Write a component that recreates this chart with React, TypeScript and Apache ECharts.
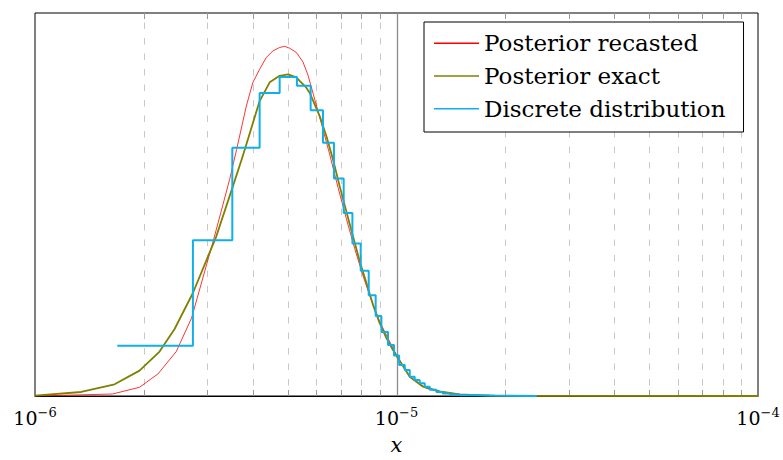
import React, { useEffect, useRef } from "react";
import * as echarts from "echarts";

// x values are in units of 1e-6
const recastX = [1.0, 1.639, 1.946, 2.188, 2.459, 2.712, 3.119, 3.454, 3.612, 3.842, 4.007, 4.182, 4.364, 4.552, 4.751, 4.905, 5.064, 5.284, 5.511, 5.69, 5.874, 6.197, 6.533, 6.888, 7.266, 7.662, 8.079, 8.521, 8.986, 9.473, 9.994, 10.88, 12.1, 13.17, 14.96, 18.11, 24.43, 100];
const recastY = [0.0, 0.0052, 0.0228, 0.0576, 0.116, 0.204, 0.408, 0.565, 0.644, 0.757, 0.819, 0.853, 0.884, 0.901, 0.91, 0.913, 0.908, 0.897, 0.872, 0.838, 0.791, 0.712, 0.631, 0.545, 0.463, 0.385, 0.314, 0.25, 0.194, 0.151, 0.107, 0.05, 0.02, 0.0113, 0.0039, 0.0008, 0.0, 0.0];

const exactX = [1.0, 1.342, 1.66, 1.946, 2.211, 2.433, 2.734, 3.174, 3.528, 3.722, 3.818, 3.924, 4.182, 4.459, 4.751, 5.009, 5.284, 5.396, 5.631, 5.751, 6.131, 6.397, 6.671, 6.962, 7.266, 7.579, 7.909, 8.256, 8.61, 8.985, 9.377, 9.779, 10.1, 10.88, 11.84, 13.17, 14.96, 18.11, 24.43, 100];
const exactY = [0.001, 0.0105, 0.0306, 0.0662, 0.116, 0.175, 0.269, 0.417, 0.548, 0.615, 0.648, 0.685, 0.77, 0.819, 0.836, 0.84, 0.832, 0.823, 0.805, 0.792, 0.731, 0.679, 0.618, 0.548, 0.482, 0.417, 0.352, 0.295, 0.238, 0.19, 0.151, 0.12, 0.0987, 0.0505, 0.0243, 0.0118, 0.004, 0.0008, 0.0001, 0.0];

const binEdges = [1.689, 2.734, 3.514, 4.182, 4.751, 5.304, 5.788, 6.26, 6.714, 7.143, 7.551, 7.961, 8.378, 8.758, 9.083, 9.473, 9.842, 10.17, 10.54, 10.88, 11.23, 11.59, 11.97, 12.36, 12.89, 13.42, 14.04, 14.96, 16.46, 18.7, 24.43];
const binHeights = [0.131, 0.4065, 0.648, 0.791, 0.833, 0.81, 0.746, 0.661, 0.568, 0.478, 0.398, 0.327, 0.263, 0.209, 0.167, 0.133, 0.106, 0.081, 0.068, 0.0505, 0.042, 0.033, 0.024, 0.016, 0.0105, 0.0065, 0.004, 0.002, 0.001, 0.0003];

const minorTicks = [2, 3, 4, 5, 6, 7, 8, 9, 20, 30, 40, 50, 60, 70, 80, 90];
const majorTicks = [10];

const seriesNames = ["Posterior recasted", "Posterior exact", "Discrete distribution"];
const seriesColors = ["#ff0000", "#808000", "#0fb0ea"];

const SERIF = "DejaVu Serif";

export default function App() {
  const ref = useRef<HTMLDivElement>(null);
  useEffect(() => {
    if (!ref.current) return;
    const chart = echarts.init(ref.current, null, { renderer: "svg" });
    const stepData: number[][] = binHeights.map((h, i) => [binEdges[i], h]);
    stepData.push([binEdges[binEdges.length - 1], binHeights[binHeights.length - 1]]);
    const gridData = [
      ...minorTicks.map((v) => [v, 0]),
      ...majorTicks.map((v) => [v, 1]),
    ];
    chart.setOption({
      animation: false,
      textStyle: { fontFamily: SERIF },
      grid: {
        left: 35,
        right: 25,
        top: 13,
        bottom: 64,
        outerBoundsMode: "none",
        containLabel: false,
        show: true,
        borderColor: "#000",
        borderWidth: 1,
        backgroundColor: "#fff",
      },
      legend: {
        data: seriesNames,
        orient: "vertical",
        left: 424,
        top: 22,
        icon: "rect",
        itemWidth: 45,
        itemHeight: 1.6,
        itemGap: 6.7,
        padding: [8.3, 18, 10.3, 10],
        borderColor: "#000",
        borderWidth: 1,
        borderRadius: 0,
        backgroundColor: "#fff",
        selectedMode: false,
        textStyle: { fontFamily: SERIF, fontSize: 23, lineHeight: 26, color: "#000" },
      },
      xAxis: {
        type: "log",
        logBase: 10,
        min: 1,
        max: 100,
        name: "x",
        nameLocation: "middle",
        nameGap: 40,
        nameTextStyle: { fontFamily: SERIF, fontStyle: "italic", fontSize: 21, lineHeight: 18, color: "#000" },
        axisLine: { show: true, lineStyle: { color: "#000", width: 1 } },
        axisTick: { show: false },
        splitLine: { show: false },
        minorTick: { show: false },
        axisLabel: {
          margin: 10,
          fontFamily: SERIF,
          formatter: (v: number) => {
            const e = Math.round(Math.log10(v)) - 6;
            return `{b|10}{s|${e < 0 ? "\u2212" : ""}${Math.abs(e)}}`;
          },
          rich: {
            b: { fontFamily: SERIF, fontSize: 19, lineHeight: 24, color: "#000" },
            s: { fontFamily: SERIF, fontSize: 13, lineHeight: 12, verticalAlign: "top", color: "#000" },
          },
        },
      },
      yAxis: {
        type: "value",
        min: 0,
        max: 1,
        show: false,
      },
      series: [
        {
          type: "custom",
          name: "grid",
          silent: true,
          z: 1,
          data: gridData,
          encode: { x: 0, y: 1 },
          renderItem: (params: any, api: any) => {
            const x = api.value(0);
            const major = api.value(1) === 1;
            const pt = api.coord([x, 0]);
            const cs = params.coordSys;
            const top = cs.y;
            const bottom = cs.y + cs.height;
            const px = Math.round(pt[0]) + 0.5;
            if (major) {
              return {
                type: "line",
                shape: { x1: px, y1: top, x2: px, y2: bottom },
                style: { stroke: "#8c8c8c", lineWidth: 1.3 },
              };
            }
            return {
              type: "group",
              children: [
                {
                  type: "line",
                  shape: { x1: px, y1: top, x2: px, y2: bottom },
                  style: { stroke: "#c8c8c8", lineWidth: 1, lineDash: [6.5, 9], lineDashOffset: 5.7 },
                },
                {
                  type: "line",
                  shape: { x1: px, y1: bottom - 6, x2: px, y2: bottom },
                  style: { stroke: "#999", lineWidth: 1 },
                },
                {
                  type: "line",
                  shape: { x1: px, y1: top, x2: px, y2: top + 6 },
                  style: { stroke: "#999", lineWidth: 1 },
                },
              ],
            };
          },
        },
        {
          type: "line",
          name: seriesNames[0],
          data: recastX.map((x, i) => [x, recastY[i]]),
          symbol: "none",
          z: 3,
          lineStyle: { color: seriesColors[0], width: 0.8 },
          itemStyle: { color: seriesColors[0] },
        },
        {
          type: "line",
          name: seriesNames[1],
          data: exactX.map((x, i) => [x, exactY[i]]),
          symbol: "none",
          z: 4,
          lineStyle: { color: seriesColors[1], width: 1.8 },
          itemStyle: { color: seriesColors[1] },
        },
        {
          type: "line",
          name: seriesNames[2],
          data: stepData,
          step: "end",
          symbol: "none",
          z: 5,
          lineStyle: { color: seriesColors[2], width: 2 },
          itemStyle: { color: seriesColors[2] },
        },
      ],
    });
    return () => chart.dispose();
  }, []);
  return (
    <div
      ref={ref}
      style={{ position: "absolute", left: 0, top: 0, width: 783, height: 460, background: "#fff" }}
    />
  );
}
